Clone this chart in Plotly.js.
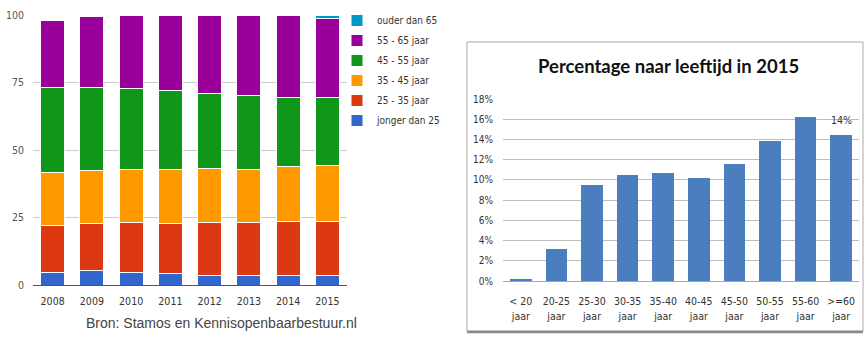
<!DOCTYPE html>
<html>
<head>
<meta charset="utf-8">
<script src="https://cdn.plot.ly/plotly-3.0.1.min.js"></script>
<style>
  html, body { margin: 0; padding: 0; background: #ffffff; }
  #chart { width: 864px; height: 353px; }
</style>
</head>
<body>
<div id="chart"></div>
<script>
// Left chart: age composition per year (stacked, percent of total)
const years = ["2008", "2009", "2010", "2011", "2012", "2013", "2014", "2015"];
const jongerDan25 = [4.7, 5.3, 4.7, 4.3, 3.6, 3.6, 3.6, 3.4];
const jaar25_35   = [17.4, 17.4, 18.6, 18.4, 19.6, 19.6, 20.0, 20.3];
const jaar35_45   = [19.5, 19.6, 19.5, 19.9, 19.8, 19.4, 20.2, 20.6];
const jaar45_55   = [31.6, 31.0, 29.9, 29.4, 27.8, 27.5, 25.7, 25.0];
const jaar55_65   = [24.6, 26.1, 27.3, 28.0, 29.2, 29.9, 30.5, 29.5];
const ouderDan65  = [0.0, 0.6, 0.0, 0.0, 0.0, 0.0, 0.0, 1.2];
const leftTicks   = [0, 25, 50, 75, 100];

const seriesNames  = ["jonger dan 25", "25 - 35 jaar", "35 - 45 jaar", "45 - 55 jaar", "55 - 65 jaar", "ouder dan 65"];
const seriesValues = [jongerDan25, jaar25_35, jaar35_45, jaar45_55, jaar55_65, ouderDan65];
const seriesColors = ["#3366cc", "#dc3912", "#ff9900", "#109618", "#990099", "#0099c6"];

// Right chart: share per age group in 2015
const ageGroups  = ["< 20", "20-25", "25-30", "30-35", "35-40", "40-45", "45-50", "50-55", "55-60", ">=60"];
const ageUnit    = "jaar";
const share2015  = [0.1, 3.2, 9.5, 10.5, 10.7, 10.2, 11.6, 13.8, 16.2, 14.4];
const labelIndex = 9;

const chartTitle = "Percentage naar leeftijd in 2015";
const sourceText = "Bron: Stamos en Kennisopenbaarbestuur.nl";

// pixel -> paper helpers
const W = 864, H = 353;
const px = x => x / W;
const py = y => 1 - y / H;

// stacked series; legend lists the oldest group first
const traces = seriesNames.map((name, i) => ({
  type: "bar",
  name: name,
  x: years,
  y: seriesValues[i],
  xaxis: "x",
  yaxis: "y",
  legendgroup: "g" + i,
  legendrank: seriesNames.length - i,
  marker: { color: seriesColors[i], line: { color: "#ffffff", width: 1 } },
  hoverinfo: "x+y+name"
}));

traces.push({
  type: "bar",
  x: ageGroups,
  y: share2015,
  xaxis: "x2",
  yaxis: "y2",
  showlegend: false,
  marker: { color: "#4a7ebf" },
  hovertemplate: "%{x} jaar: %{y}%<extra></extra>"
});

// companion axis carrying the second label line ("jaar") under each group
traces.push({
  type: "scatter",
  mode: "none",
  x: ageGroups,
  y: share2015,
  xaxis: "x3",
  yaxis: "y2",
  showlegend: false,
  hoverinfo: "skip"
});

const narrow = "'DejaVu Sans Condensed', 'Liberation Sans Narrow', 'Liberation Sans', Arial, sans-serif";

const layout = {
  width: W,
  height: H,
  margin: { l: 0, r: 0, t: 0, b: 0 },
  paper_bgcolor: "#ffffff",
  plot_bgcolor: "rgba(0,0,0,0)",
  barmode: "stack",
  showlegend: true,
  font: { family: "'Liberation Sans', Arial, sans-serif", color: "#333" },
  legend: {
    x: px(337), y: py(6), xanchor: "left", yanchor: "top",
    traceorder: "grouped",
    tracegroupgap: 1,
    itemwidth: 30,
    font: { family: narrow, size: 10, color: "#333" },
    bgcolor: "rgba(0,0,0,0)"
  },
  xaxis: {
    domain: [px(33), px(347)],
    anchor: "y",
    type: "category",
    showgrid: false,
    showline: true,
    linecolor: "#555",
    linewidth: 1,
    ticks: "",
    ticklabelstandoff: 6,
    tickfont: { family: narrow, size: 10.5, color: "#333" },
    fixedrange: true
  },
  yaxis: {
    domain: [py(285), py(15)],
    anchor: "x",
    range: [0, 100],
    tickvals: leftTicks,
    showgrid: true,
    gridcolor: "#cccccc",
    zeroline: false,
    showline: false,
    ticks: "",
    ticklabelstandoff: 8,
    tickfont: { family: narrow, size: 10.5, color: "#555" },
    fixedrange: true
  },
  bargap: 0.39,
  xaxis2: {
    domain: [px(503), px(859)],
    anchor: "y2",
    type: "category",
    range: [-0.5, ageGroups.length - 0.5],
    showgrid: false,
    showline: true,
    linecolor: "#a6a6a6",
    ticks: "",
    ticklabelstandoff: 10,
    tickfont: { family: narrow, size: 10.5, color: "#333" },
    fixedrange: true
  },
  xaxis3: {
    domain: [px(503), px(859)],
    anchor: "y2",
    overlaying: "x2",
    side: "bottom",
    type: "category",
    range: [-0.5, ageGroups.length - 0.5],
    tickvals: ageGroups,
    ticktext: ageGroups.map(() => ageUnit),
    showgrid: false,
    showline: false,
    zeroline: false,
    ticks: "",
    ticklabelstandoff: 27,
    tickfont: { family: narrow, size: 10.5, color: "#333" },
    fixedrange: true
  },
  yaxis2: {
    domain: [py(281), py(99)],
    anchor: "x2",
    range: [0, 18],
    dtick: 2,
    ticksuffix: "%",
    showgrid: true,
    gridcolor: "#bdbdbd",
    zeroline: false,
    showline: false,
    ticks: "",
    ticklabelstandoff: 9,
    tickfont: { family: narrow, size: 10, color: "#333" },
    fixedrange: true
  },
  shapes: [
    { type: "rect", xref: "paper", yref: "paper",
      x0: px(467), x1: px(863), y0: py(331), y1: py(42),
      line: { color: "#a8a8a8", width: 1 }, fillcolor: "rgba(0,0,0,0)", layer: "below" },
    { type: "line", xref: "paper", yref: "paper",
      x0: px(467), x1: px(863), y0: py(332), y1: py(332),
      line: { color: "#8a8a8a", width: 2.5 } }
  ],
  annotations: [
    { xref: "x2", yref: "y2", x: ageGroups[labelIndex], y: share2015[labelIndex],
      text: Math.round(share2015[labelIndex]) + "%", showarrow: false,
      yanchor: "bottom", yshift: 7,
      font: { family: narrow, size: 10.5, color: "#333" } },
    { xref: "paper", yref: "paper", x: px(668), y: py(66),
      text: "<b>" + chartTitle + "</b>", showarrow: false,
      xanchor: "center", yanchor: "middle",
      font: { family: "Lato, 'Open Sans', sans-serif", size: 18.5, color: "#111" } },
    { xref: "paper", yref: "paper", x: px(222), y: py(323),
      text: sourceText, showarrow: false,
      xanchor: "center", yanchor: "middle",
      font: { family: "'Liberation Sans', Arial, sans-serif", size: 14, color: "#444" } }
  ]
};

Plotly.newPlot("chart", traces, layout, { displayModeBar: false, responsive: false });
</script>
</body>
</html>
